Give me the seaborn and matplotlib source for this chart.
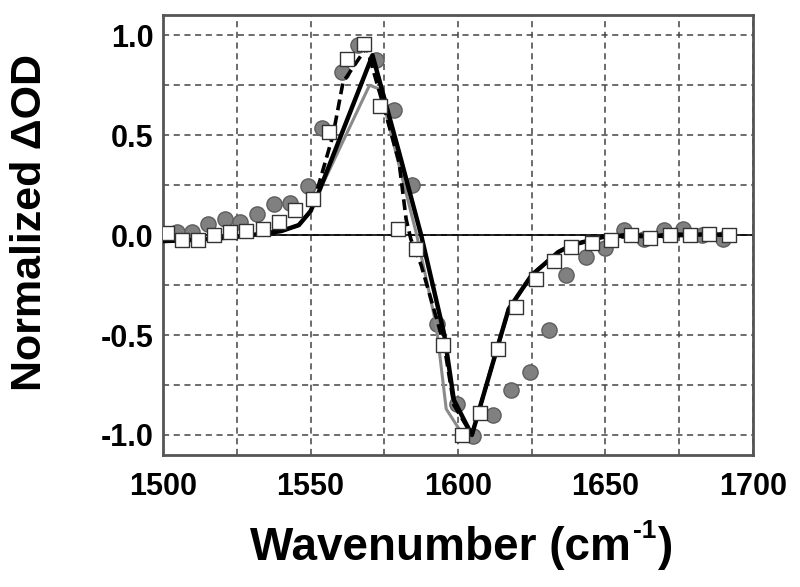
import numpy as np
import pandas as pd
import matplotlib
matplotlib.use("Agg")
import matplotlib.pyplot as plt
import seaborn as sns
from matplotlib.ticker import MultipleLocator

# ---------------- data ----------------
# grey circles
circ_x = [1504.7, 1509.8, 1515.2, 1521.0, 1526.0, 1531.8, 1537.5, 1542.9, 1549.0,
          1554.0, 1560.5, 1566.2, 1572.3, 1578.4, 1584.5, 1592.9, 1599.7, 1605.0,
          1611.8, 1617.9, 1624.3, 1630.7, 1636.8, 1643.4, 1650.0, 1656.4, 1663.2,
          1669.9, 1676.4, 1682.8, 1689.9]
circ_y = [0.015, 0.015, 0.055, 0.08, 0.065, 0.105, 0.155, 0.16, 0.245,
          0.535, 0.815, 0.95, 0.875, 0.625, 0.25, -0.445, -0.845, -1.005,
          -0.90, -0.775, -0.685, -0.475, -0.20, -0.11, -0.065, 0.025, -0.02,
          0.025, 0.03, 0.0, -0.02]

# white squares
sq_x = [1501.4, 1506.4, 1511.8, 1517.2, 1522.6, 1528.0, 1533.8, 1539.2, 1544.6,
        1550.7, 1556.4, 1562.2, 1568.2, 1573.6, 1579.7, 1585.8, 1595.0, 1601.4,
        1607.4, 1613.5, 1619.6, 1626.4, 1632.4, 1638.5, 1645.3, 1652.0, 1658.8,
        1665.2, 1672.0, 1678.7, 1685.0, 1692.0]
sq_y = [0.01, -0.025, -0.025, 0.0, 0.015, 0.02, 0.03, 0.065, 0.125,
        0.18, 0.515, 0.88, 0.955, 0.645, 0.03, -0.07, -0.55, -1.0,
        -0.89, -0.57, -0.36, -0.22, -0.13, -0.06, -0.04, -0.025, 0.0,
        -0.015, 0.0, 0.0, 0.005, 0.0]

# black solid fit
blk_x = [1500, 1510, 1520, 1530, 1540, 1546, 1550, 1552.5, 1571, 1580, 1587.5,
         1595.3, 1598.6, 1604.7, 1613.9, 1617.2, 1625, 1634, 1638.5, 1649,
         1652, 1658.8, 1665.2, 1672, 1678.7, 1685, 1692]
blk_y = [-0.03, -0.025, -0.015, 0.0, 0.02, 0.05, 0.12, 0.205, 0.90, 0.415, 0.0,
         -0.495, -0.825, -1.0, -0.535, -0.37, -0.20, -0.085, -0.05, -0.01,
         -0.01, 0.005, -0.01, 0.005, 0.0, 0.005, 0.0]

# grey solid fit
gry_x = [1500, 1510, 1520, 1530, 1540, 1546, 1550, 1552.5, 1570, 1573.5, 1586,
         1592.6, 1596, 1601, 1604.7, 1613.9, 1617.2, 1625, 1634, 1638.5, 1649,
         1652, 1658.8, 1665.2, 1672, 1678.7, 1685, 1692]
gry_y = [-0.03, -0.025, -0.015, 0.0, 0.02, 0.05, 0.12, 0.205, 0.75, 0.73, 0.0,
         -0.45, -0.87, -0.985, -1.0, -0.535, -0.37, -0.20, -0.085, -0.05, -0.01,
         -0.01, 0.005, -0.01, 0.005, 0.0, 0.005, 0.0]

# black dashed fit
dsh_x = [1500, 1510, 1520, 1530, 1540, 1546, 1550, 1553, 1557.6, 1561, 1569,
         1576, 1580, 1582.4, 1584, 1587.5, 1595.3, 1598.6, 1604.7, 1613.9, 1617.2,
         1625, 1634, 1638.5, 1649, 1692]
dsh_y = [-0.03, -0.025, -0.015, 0.0, 0.02, 0.05, 0.12, 0.265, 0.50, 0.765, 0.94,
         0.58, 0.365, 0.08, -0.02, -0.15, -0.55, -0.85, -1.0, -0.535, -0.37,
         -0.20, -0.085, -0.05, -0.01, 0.0]

# ---------------- plot ----------------
sns.set_theme(style="white")
plt.rcParams['font.family'] = ['Liberation Sans', 'DejaVu Sans']
plt.rcParams['font.weight'] = 'bold'
plt.rcParams['text.color'] = 'black'
plt.rcParams['xtick.color'] = 'black'
plt.rcParams['ytick.color'] = 'black'

fig = plt.figure(figsize=(8, 5.87), dpi=100)
ax = fig.add_axes([0.204, 0.225, 0.737, 0.749])

ax.axhline(0, color='black', lw=1.2, zorder=1)

sns.scatterplot(x=circ_x, y=circ_y, ax=ax, marker='o', s=120, color='#808080',
                edgecolor='#5e5e5e', linewidth=1, zorder=2)
sns.lineplot(x=gry_x, y=gry_y, ax=ax, sort=False, estimator=None, color='#8a8a8a',
             lw=2.2, zorder=3)
sns.lineplot(x=dsh_x, y=dsh_y, ax=ax, sort=False, estimator=None, color='black',
             lw=2.6, zorder=3, dashes=False, linestyle=(0, (3, 1.5)))
sns.lineplot(x=blk_x, y=blk_y, ax=ax, sort=False, estimator=None, color='black',
             lw=3.2, zorder=4)
sns.scatterplot(x=sq_x, y=sq_y, ax=ax, marker='s', s=110, color='white',
                edgecolor='#333333', linewidth=1, zorder=5)

ax.set_xlim(1500, 1700)
ax.set_ylim(-1.1, 1.1)
ax.xaxis.set_major_locator(MultipleLocator(50))
ax.xaxis.set_minor_locator(MultipleLocator(25))
ax.yaxis.set_major_locator(MultipleLocator(0.5))
ax.yaxis.set_minor_locator(MultipleLocator(0.25))
ax.set_yticks([-1.0, -0.5, 0.0, 0.5, 1.0])
ax.set_yticklabels(['-1.0', '-0.5', '0.0', '0.5', '1.0'])
ax.grid(which='both', color='#444444', linestyle=(0, (4, 3)), lw=1.1, zorder=0)
ax.set_axisbelow(True)
ax.tick_params(axis='y', which='both', length=0, labelsize=22, pad=7)
ax.tick_params(axis='x', which='both', length=0, labelsize=22, pad=12)
for lab in ax.get_xticklabels() + ax.get_yticklabels():
    lab.set_fontweight('bold')

for sp in ax.spines.values():
    sp.set_color('#555555')
    sp.set_linewidth(2)

ax.set_xlabel('')
ax.set_ylabel('')

# y label
fig.text(30 / 800, 1 - 222 / 587, 'Normalized \u0394OD', rotation=90, fontsize=31,
         fontweight='bold', ha='center', va='center')

# x label with small raised "-1"
fig.canvas.draw()
r = fig.canvas.get_renderer()
ybase = 1 - 560 / 587
t1 = fig.text(0, ybase, 'Wavenumber (cm', fontsize=33, fontweight='bold', ha='left', va='baseline')
t2 = fig.text(0, ybase + 0.038, '-1', fontsize=19, fontweight='bold', ha='left', va='baseline')
t3 = fig.text(0, ybase, ')', fontsize=33, fontweight='bold', ha='left', va='baseline')
w1 = t1.get_window_extent(r).width / 800
w2 = t2.get_window_extent(r).width / 800
w3 = t3.get_window_extent(r).width / 800
x0 = 0.575 - (w1 + w2 + w3) / 2
t1.set_x(x0)
t2.set_x(x0 + w1 + 0.002)
t3.set_x(x0 + w1 + w2 + 0.004)

fig.savefig('out.png', dpi=100)
